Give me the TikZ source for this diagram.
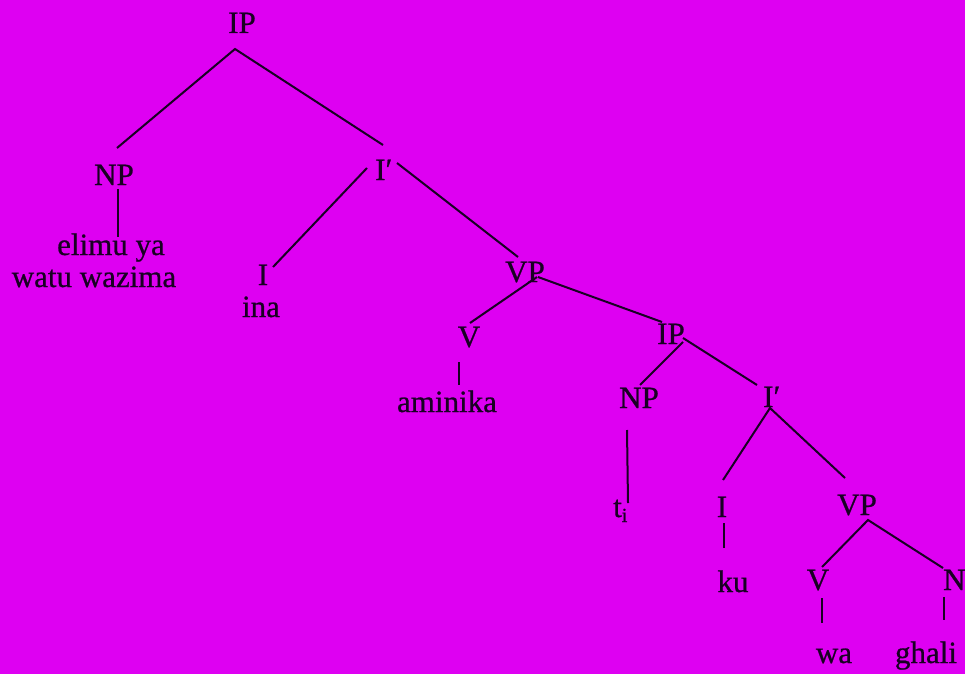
\documentclass[tikz,border=0pt]{standalone}
\usepackage{fontspec}
\setmainfont{Liberation Serif}
\newfontfamily\labfont{Liberation Serif}[FakeBold=0.7]
\definecolor{bgmag}{RGB}{222,0,242}
\definecolor{ink}{RGB}{25,0,35}
\begin{document}
\begin{tikzpicture}[x=1pt,y=-1pt,
  lab/.style={anchor=base,inner sep=0pt,text=ink,font=\labfont\fontsize{31}{34}\selectfont},
  labw/.style={lab,anchor=base west},
  edge/.style={draw=ink,line width=2pt}]
\fill[bgmag] (0,0) rectangle (965,674);
\useasboundingbox (0,0) rectangle (965,674);
% labels
\node[lab]  (ip)   at (242,33)  {IP};
\node[lab]  (np)   at (114,185) {NP};
\node[labw] (ib)   at (375,180) {I′};
\node[lab]  (el1)  at (111,255) {elimu ya};
\node[lab]  (el2)  at (94,287)  {watu wazima};
\node[lab]  (i1)   at (263,285) {I};
\node[lab]  (ina)  at (261,317) {ina};
\node[lab]  (vp)   at (525,282) {VP};
\node[lab]  (v1)   at (469,347) {V};
\node[lab]  (amin) at (447,412) {aminika};
\node[lab]  (ip2)  at (671,344) {IP};
\node[lab]  (np2)  at (639,408) {NP};
\node[labw] (ti)   at (613,517) {t\raisebox{-5pt}{\fontsize{20}{22}\selectfont i}};
\node[labw] (ib2)  at (763,407) {I′};
\node[lab]  (i3)   at (722,517) {I};
\node[lab]  (ku)   at (733,592) {ku};
\node[lab]  (vp2)  at (857,515) {VP};
\node[lab]  (v3)   at (818,590) {V};
\node[labw] (n)    at (943,590) {N};
\node[lab]  (wa)   at (834,663) {wa};
\node[lab]  (gh)   at (926,663) {ghali};
% connector end points
\coordinate (ipB)   at (235,49);
\coordinate (npT)   at (117,148);
\coordinate (ibT)   at (383,145);
\coordinate (npB)   at (118,189);
\coordinate (elT)   at (118,237);
\coordinate (ibL)   at (367,168);
\coordinate (i1T)   at (273,267);
\coordinate (ibR)   at (397,163);
\coordinate (vpT)   at (518,257);
\coordinate (vpL)   at (537,277);
\coordinate (v1T)   at (470,323);
\coordinate (vpR)   at (538,277);
\coordinate (ip2T)  at (662,322);
\coordinate (v1B)   at (459,362);
\coordinate (aminT) at (459,385);
\coordinate (ip2L)  at (683,342);
\coordinate (np2T)  at (640,385);
\coordinate (ip2R)  at (683,338);
\coordinate (ib2T)  at (757,385);
\coordinate (np2B)  at (627,430);
\coordinate (tiT)   at (628,503);
\coordinate (ib2B)  at (770,408);
\coordinate (i3T)   at (723,480);
\coordinate (vp2T)  at (845,478);
\coordinate (i3B)   at (724,523);
\coordinate (kuT)   at (724,548);
\coordinate (vp2B)  at (868,520);
\coordinate (v3T)   at (822,567);
\coordinate (nT)    at (943,568);
\coordinate (v3B)   at (822,598);
\coordinate (waT)   at (822,623);
\coordinate (nB)    at (944,597);
\coordinate (ghT)   at (944,620);
% connectors
\draw[edge] (npT) -- (ipB) -- (ibT);
\draw[edge] (npB) -- (elT);
\draw[edge] (ibL) -- (i1T);
\draw[edge] (ibR) -- (vpT);
\draw[edge] (v1T) -- (vpL);
\draw[edge] (vpR) -- (ip2T);
\draw[edge] (v1B) -- (aminT);
\draw[edge] (ip2L) -- (np2T);
\draw[edge] (ip2R) -- (ib2T);
\draw[edge] (np2B) -- (tiT);
\draw[edge] (i3T) -- (ib2B) -- (vp2T);
\draw[edge] (i3B) -- (kuT);
\draw[edge] (v3T) -- (vp2B) -- (nT);
\draw[edge] (v3B) -- (waT);
\draw[edge] (nB) -- (ghT);
\end{tikzpicture}
\end{document}
